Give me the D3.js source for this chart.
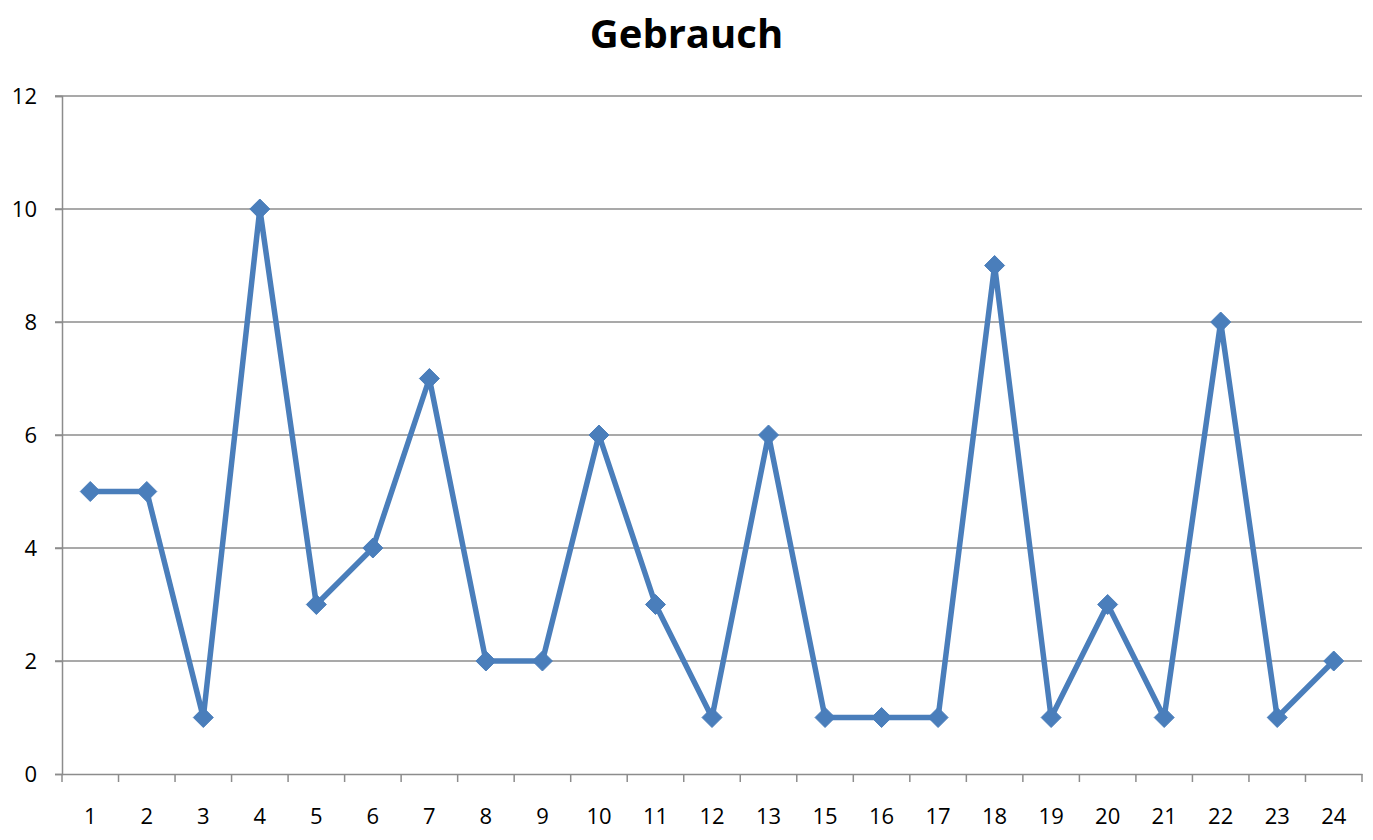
<!DOCTYPE html>
<html>
<head>
<meta charset="utf-8">
<script src="https://cdn.jsdelivr.net/npm/d3@7"></script>
<style>
  body { margin: 0; background: #fff; }
  text { font-family: "Open Sans", "Liberation Sans", sans-serif; }
</style>
</head>
<body>
<script>
// chart data
var categories = ["1","2","3","4","5","6","7","8","9","10","11","12","13","15","16","17","18","19","20","21","22","23","24"];
var values = [5,5,1,10,3,4,7,2,2,6,3,1,6,1,1,1,9,1,3,1,8,1,2];
var yTicks = [0,2,4,6,8,10,12];

var width = 1373, height = 840;
var margin = { top: 96, right: 11, bottom: 66, left: 62 };

var svg = d3.select("body").append("svg")
  .attr("width", width)
  .attr("height", height);

var xScale = d3.scaleBand()
  .domain(categories)
  .range([margin.left, width - margin.right]);

var yScale = d3.scaleLinear()
  .domain([0, 12])
  .range([height - margin.bottom, margin.top]);

// gridlines
svg.append("g").selectAll("line")
  .data(yTicks.slice(1))
  .enter().append("line")
  .attr("x1", margin.left - 7)
  .attr("x2", width - margin.right)
  .attr("y1", d => yScale(d))
  .attr("y2", d => yScale(d))
  .attr("stroke", "#8c8c8c")
  .attr("stroke-width", 1.5);

// y axis
var yAxis = d3.axisLeft(yScale).tickValues(yTicks).tickSize(7).tickPadding(18);
var gy = svg.append("g")
  .attr("transform", "translate(" + margin.left + ",0)")
  .call(yAxis);
gy.select(".domain").attr("stroke", "#8c8c8c").attr("stroke-width", 1.5);
gy.selectAll(".tick line").attr("stroke", "#8c8c8c").attr("stroke-width", 1.5);
gy.selectAll(".tick text").attr("font-size", 22).attr("fill", "#000")
  .style("font-family", "'Open Sans', sans-serif");

// x axis
var xAxis = d3.axisBottom(xScale).tickSize(0).tickPadding(34);
var gx = svg.append("g")
  .attr("transform", "translate(0," + (height - margin.bottom) + ")")
  .call(xAxis);
gx.select(".domain").attr("stroke", "#8c8c8c").attr("stroke-width", 1.5);
gx.selectAll(".tick text").attr("font-size", 22).attr("fill", "#000")
  .style("font-family", "'Open Sans', sans-serif");

// x tick marks between categories
var boundaries = categories.map(c => xScale(c)).concat([width - margin.right]);
svg.append("g").selectAll("line")
  .data(boundaries)
  .enter().append("line")
  .attr("x1", d => d).attr("x2", d => d)
  .attr("y1", height - margin.bottom)
  .attr("y2", height - margin.bottom + 8)
  .attr("stroke", "#8c8c8c")
  .attr("stroke-width", 1.5);

// line
var line = d3.line()
  .x((d, i) => xScale(categories[i]) + xScale.bandwidth() / 2)
  .y(d => yScale(d));

svg.append("path")
  .datum(values)
  .attr("d", line)
  .attr("fill", "none")
  .attr("stroke", "#4a7ebb")
  .attr("stroke-width", 5.5)
  .attr("stroke-linejoin", "round");

// diamond markers
svg.append("g").selectAll("path")
  .data(values)
  .enter().append("path")
  .attr("d", "M0,-10L10,0L0,10L-10,0Z")
  .attr("transform", (d, i) => "translate(" + (xScale(categories[i]) + xScale.bandwidth() / 2) + "," + yScale(d) + ")")
  .attr("fill", "#4a7ebb")
  .attr("stroke", "#4a7ebb")
  .attr("stroke-width", 1);

// title
svg.append("text")
  .attr("x", width / 2)
  .attr("y", 48)
  .attr("text-anchor", "middle")
  .attr("font-size", 40)
  .attr("font-weight", "bold")
  .text("Gebrauch");
</script>
</body>
</html>
